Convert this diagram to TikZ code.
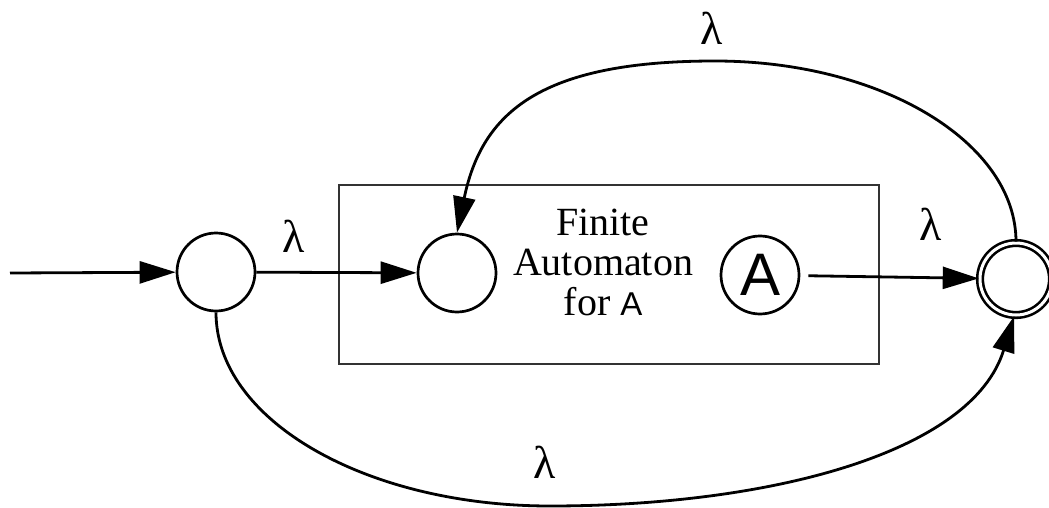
\documentclass[tikz,border=0pt]{standalone}
\usepackage{fontspec}
\setmainfont{Liberation Serif}
\newfontfamily\hv{Liberation Sans}
\usetikzlibrary{arrows.meta}
\begin{document}
\begin{tikzpicture}[x=1pt,y=-1pt,
  st/.style={circle,draw,line width=2.7pt,minimum size=78pt,inner sep=0pt},
  edge/.style={line width=2.8pt,-{Triangle[length=36pt,width=22pt]}},
  lab/.style={font=\fontsize{46}{46}\selectfont}]
\useasboundingbox (0,0) rectangle (1049,508);
\node[draw=black!80,line width=1.8pt,minimum width=540pt,minimum height=179pt,inner sep=0pt] (box) at (609,274.5) {};
\coordinate (in) at (10,273);
\node[st] (c1) at (216,272) {};
\node[st] (c2) at (457,273) {};
\node[st,font=\hv\fontsize{60}{60}\selectfont] (a) at (760,275) {A};
\node[st,double,double distance=3pt,line width=2.6pt,minimum size=72pt] (f) at (1016,279) {};
\node[align=center,font=\fontsize{40}{40}\selectfont] (t) at (603,262) {Finite\\Automaton\\for {\hv\fontsize{33}{33}\selectfont A}};
\node[lab] (l1) at (294,236) {λ};
\node[lab] (l2) at (931,224) {λ};
\node[lab] (l3) at (712,28) {λ};
\node[lab] (l4) at (545,462) {λ};
\coordinate (tp) at (715,61);
\coordinate (bt) at (550,506);
\draw[edge] (in) -- (c1);
\draw[edge] (c1) -- (c2);
\draw[edge,shorten <=8pt] (a) -- (f);
\draw[edge] (f.north) .. controls +(0,-99) and +(167,0) .. (tp)
   .. controls +(-175,0) and +(25,-120) .. (c2.north);
\draw[edge] (c1.south) .. controls +(0,108) and +(-184,0) .. (bt)
   .. controls +(220,0) and +(-42,136.5) .. (f.-93);
\end{tikzpicture}
\end{document}
